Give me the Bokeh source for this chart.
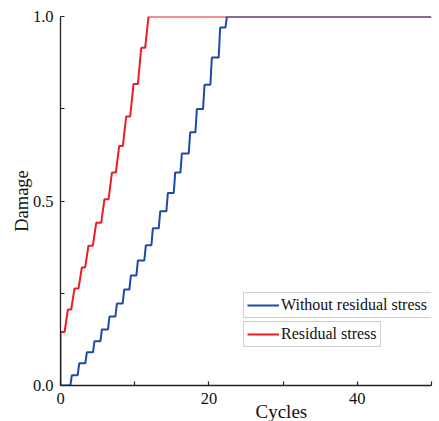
import math
from bokeh.plotting import figure
from bokeh.models import FixedTicker, Legend, LegendItem, Title, Range1d
from bokeh.embed import file_html
from bokeh.resources import INLINE

# ---------------- data ----------------
x_ticks = [0, 20, 40]
x_minor_ticks = [10, 30, 50]
x_tick_labels = ["0", "20", "40"]
y_ticks = [0.0, 0.5, 1.0]
y_minor_ticks = [0.25, 0.75]
y_tick_labels = ["0.0", "0.5", "1.0"]

x_title = "Cycles"
y_title = "Damage"
series_names = ["Without residual stress", "Residual stress"]

max_cycles = 50

# cycle at which each new damage level is reached (top of each riser)
blue_cycles = [1.53, 2.52, 3.55, 4.58, 5.58, 6.60, 7.60, 8.58, 9.48, 10.43, 11.50,
               12.45, 13.44, 14.47, 15.46, 16.36, 17.48, 18.38, 19.41, 20.40, 21.52, 22.43]
blue_damage = [0.028, 0.060, 0.090, 0.120, 0.152, 0.187, 0.222, 0.260, 0.298, 0.339, 0.380,
               0.426, 0.472, 0.522, 0.577, 0.629, 0.686, 0.749, 0.815, 0.889, 0.970, 1.0]
blue_initial_damage = 0.0

red_initial_damage = 0.145
red_cycles = [1.00, 1.89, 2.88, 3.77, 4.81, 5.93, 6.93, 7.91, 8.85, 9.84, 10.88, 11.86]
red_damage = [0.206, 0.263, 0.320, 0.379, 0.441, 0.505, 0.577, 0.649, 0.729, 0.817, 0.915, 1.0]

# ---------------- styles ----------------
BLUE = "#1d4aa8"
RED = "#ec1c24"
FONT = "Liberation Serif"
AX = "#222222"
TXT = "#111111"


def stairs(start_d, cycles, damage, rise, end, from_zero=False):
    xs, ys = [], []
    if from_zero:
        xs.append(0.0)
        ys.append(0.0)
    xs.append(0.0)
    ys.append(start_d)
    prev = start_d
    for c, d in zip(cycles, damage):
        xs += [c - rise, c]
        ys += [prev, d]
        prev = d
    xs.append(end)
    ys.append(prev)
    return xs, ys


blue_x, blue_y = stairs(blue_initial_damage, blue_cycles, blue_damage, 0.2, max_cycles)
red_x, red_y = stairs(red_initial_damage, red_cycles, red_damage, 0.45, max_cycles, from_zero=True)

p = figure(width=439, height=421,
           x_range=Range1d(0, max_cycles), y_range=Range1d(0, 1),
           output_backend="svg", toolbar_location=None,
           min_border_left=60, min_border_right=8, min_border_top=16, min_border_bottom=36)
p.outline_line_color = None
p.grid.visible = False
p.background_fill_color = "white"
p.border_fill_color = "white"

r_red = p.line(red_x, red_y, line_color=RED, line_width=2)
r_blue = p.line(blue_x, blue_y, line_color=BLUE, line_width=2)

for ax, ticks, minor, labels in ((p.xaxis, x_ticks, x_minor_ticks, x_tick_labels),
                                 (p.yaxis, y_ticks, y_minor_ticks, y_tick_labels)):
    ax.ticker = FixedTicker(ticks=ticks, minor_ticks=minor)
    ax.major_label_overrides = {t: l for t, l in zip(ticks, labels)}
    ax.axis_line_color = AX
    ax.axis_line_width = 1.3
    ax.major_tick_line_color = AX
    ax.minor_tick_line_color = AX
    ax.major_tick_line_width = 1.2
    ax.minor_tick_line_width = 1.2
    ax.major_tick_in = 4
    ax.major_tick_out = 0
    ax.minor_tick_in = 4
    ax.minor_tick_out = 0
    ax.major_label_text_font = FONT
    ax.major_label_text_font_size = "16.5px"
    ax.major_label_text_color = TXT
    ax.major_label_standoff = 7

p.yaxis.axis_label = y_title
p.yaxis.axis_label_text_font = FONT
p.yaxis.axis_label_text_font_size = "18.5px"
p.yaxis.axis_label_text_font_style = "normal"
p.yaxis.axis_label_text_color = TXT
p.yaxis.axis_label_standoff = -2

# x title as a Title below the axis, shifted to where the reference puts it
p.add_layout(Title(text=x_title, align="left", offset=195, standoff=-16,
                   text_font=FONT, text_font_size="19px", text_font_style="normal",
                   text_color=TXT), "below")

for name, rend, loc, lw in ((series_names[0], r_blue, (183, 67), 159),
                            (series_names[1], r_red, (183, 38), 20)):
    leg = Legend(items=[LegendItem(label=name, renderers=[rend])], location=loc,
                 margin=0, padding=3, spacing=0, glyph_width=32, glyph_height=18,
                 label_height=18, label_width=lw, label_standoff=2,
                 label_text_font=FONT, label_text_font_size="16px",
                 label_text_color=TXT,
                 border_line_color="#a0a0a0", border_line_width=1,
                 background_fill_color="white", background_fill_alpha=1.0)
    p.add_layout(leg)

open("out.html", "w").write(file_html(p, INLINE))
